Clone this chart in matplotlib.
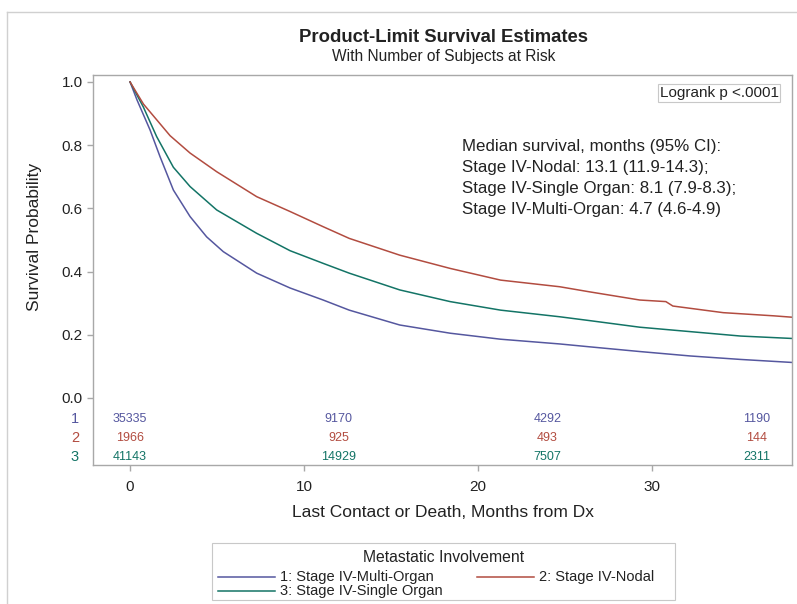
import matplotlib
matplotlib.use('Agg')
import matplotlib.pyplot as plt
from matplotlib.patches import Rectangle
from matplotlib.lines import Line2D

plt.rcParams['font.family'] = ['Liberation Sans', 'DejaVu Sans']

# survival curves (months, probability)
multi_t = [0, 0.4, 1.15, 1.72, 2.49, 3.45, 4.4, 5.36, 7.28, 9.2, 11.1, 12.6, 15.5, 18.4, 21.3,
           24.7, 26.4, 29.3, 32.2, 35.1, 38.2]
multi_s = [1.0, 0.943, 0.848, 0.764, 0.658, 0.574, 0.51, 0.463, 0.395, 0.348, 0.31, 0.278, 0.231,
           0.205, 0.186, 0.171, 0.162, 0.147, 0.133, 0.122, 0.112]
nodal_t = [0, 0.77, 2.3, 3.45, 4.98, 7.28, 9.2, 11.1, 12.6, 15.5, 18.4, 21.3, 24.7, 26.4,
           29.3, 30.8, 31.2, 34.1, 37.0, 38.2]
nodal_s = [1.0, 0.93, 0.83, 0.775, 0.716, 0.637, 0.59, 0.542, 0.505, 0.452, 0.41, 0.373,
           0.352, 0.336, 0.31, 0.305, 0.291, 0.27, 0.26, 0.255]
single_t = [0, 0.77, 1.53, 2.49, 3.45, 4.98, 7.28, 9.2, 11.1, 12.6, 15.5, 18.4, 21.3, 24.7,
            26.4, 29.3, 32.2, 35.1, 38.2]
single_s = [1.0, 0.92, 0.827, 0.73, 0.669, 0.595, 0.521, 0.466, 0.426, 0.395, 0.342, 0.305, 0.278,
            0.257, 0.245, 0.224, 0.21, 0.196, 0.188]

# number at risk table
risk_times = [0, 12, 24, 36]
risk_multi = [35335, 9170, 4292, 1190]
risk_nodal = [1966, 925, 493, 144]
risk_single = [41143, 14929, 7507, 2311]

c_multi = '#55579f'
c_nodal = '#b24c40'
c_single = '#137466'
grey = '#a8a8a8'
txt = '#222222'

W, H = 797, 604
fig = plt.figure(figsize=(W / 100, H / 100), dpi=100)


def fx(px):
    return px / W


def fy(py):
    return 1 - py / H


# outer light frame
fig.add_artist(Line2D([fx(7), 1], [fy(12), fy(12)], color='#d0d0d0', lw=1))
fig.add_artist(Line2D([fx(7), fx(7)], [0, fy(12)], color='#d0d0d0', lw=1))

left, right, top, bottom = 93, 792, 75, 465
ax = fig.add_axes([fx(left), fy(bottom), (right - left) / W, (bottom - top) / H])

lines = {}
lines['multi'], = ax.plot(multi_t, multi_s, color=c_multi, lw=1.1)
lines['single'], = ax.plot(single_t, single_s, color=c_single, lw=1.1)
lines['nodal'], = ax.plot(nodal_t, nodal_s, color=c_nodal, lw=1.1)

ax.set_xlim(-2.13, 38.05)
ax.set_ylim(-0.212, 1.022)
ax.set_yticks([0.0, 0.2, 0.4, 0.6, 0.8, 1.0])
ax.set_yticklabels(['0.0', '0.2', '0.4', '0.6', '0.8', '1.0'])
ax.set_xticks([0, 10, 20, 30])
for s in ax.spines.values():
    s.set_color(grey)
    s.set_linewidth(1)
ax.tick_params(colors=grey, labelcolor=txt, labelsize=11, length=4, width=1)
ax.tick_params(axis='x', pad=7)

# risk table inside the axes
rows = [(risk_multi, c_multi, '1', -0.066), (risk_nodal, c_nodal, '2', -0.127),
        (risk_single, c_single, '3', -0.187)]
for vals, col, lab, yy in rows:
    for t, v in zip(risk_times, vals):
        ax.text(t, yy, str(v), color=col, fontsize=9, ha='center', va='center')
    ax.text(-0.02, yy, lab, color=col, fontsize=10.5, ha='right', va='center',
            transform=ax.get_yaxis_transform())

ax.set_ylabel('Survival Probability', fontsize=12.5, color=txt)
ax.yaxis.set_label_coords((42 - left) / (right - left), 1 - (237 - top) / (bottom - top))
ax.set_xlabel('Last Contact or Death, Months from Dx', fontsize=12.5, color=txt)
ax.xaxis.set_label_coords(0.5, -(505 - bottom) / (bottom - top))

fig.text(fx(443.5), fy(37), 'Product-Limit Survival Estimates', ha='center', va='center',
         fontsize=13.3, fontweight='bold', color=txt)
fig.text(fx(443.5), fy(57), 'With Number of Subjects at Risk', ha='center', va='center',
         fontsize=11.2, color=txt)

fig.text(fx(719), fy(93), 'Logrank p <.0001', ha='center', va='center',
         fontsize=11, color=txt,
         bbox=dict(boxstyle='square,pad=0.12', fc='white', ec='#c8c8c8', lw=0.8))

med_lines = ['Median survival, months (95% CI):',
             'Stage IV-Nodal: 13.1 (11.9-14.3);',
             'Stage IV-Single Organ: 8.1 (7.9-8.3);',
             'Stage IV-Multi-Organ: 4.7 (4.6-4.9)']
for i, s in enumerate(med_lines):
    fig.text(fx(462), fy(147 + 20.7 * i), s, ha='left', va='center', fontsize=12.2, color=txt)

# legend, laid out like the SAS one
fig.add_artist(Rectangle((fx(212), fy(600)), fx(675) - fx(212), fy(543) - fy(600),
                         transform=fig.transFigure, fc='white', ec='#c8c8c8', lw=0.8))
fig.text(fx(443.5), fy(558), 'Metastatic Involvement', ha='center', va='center',
         fontsize=11.3, color=txt)
entries = [('multi', '1: Stage IV-Multi-Organ', 218, 577),
           ('nodal', '2: Stage IV-Nodal', 477, 577),
           ('single', '3: Stage IV-Single Organ', 218, 591)]
for key, lab, x0, yy in entries:
    fig.add_artist(Line2D([fx(x0), fx(x0 + 57)], [fy(yy), fy(yy)],
                          color=lines[key].get_color(), lw=1.1))
    fig.text(fx(x0 + 62), fy(yy), lab, ha='left', va='center', fontsize=10.5, color=txt)

fig.savefig('out.png', dpi=100)
